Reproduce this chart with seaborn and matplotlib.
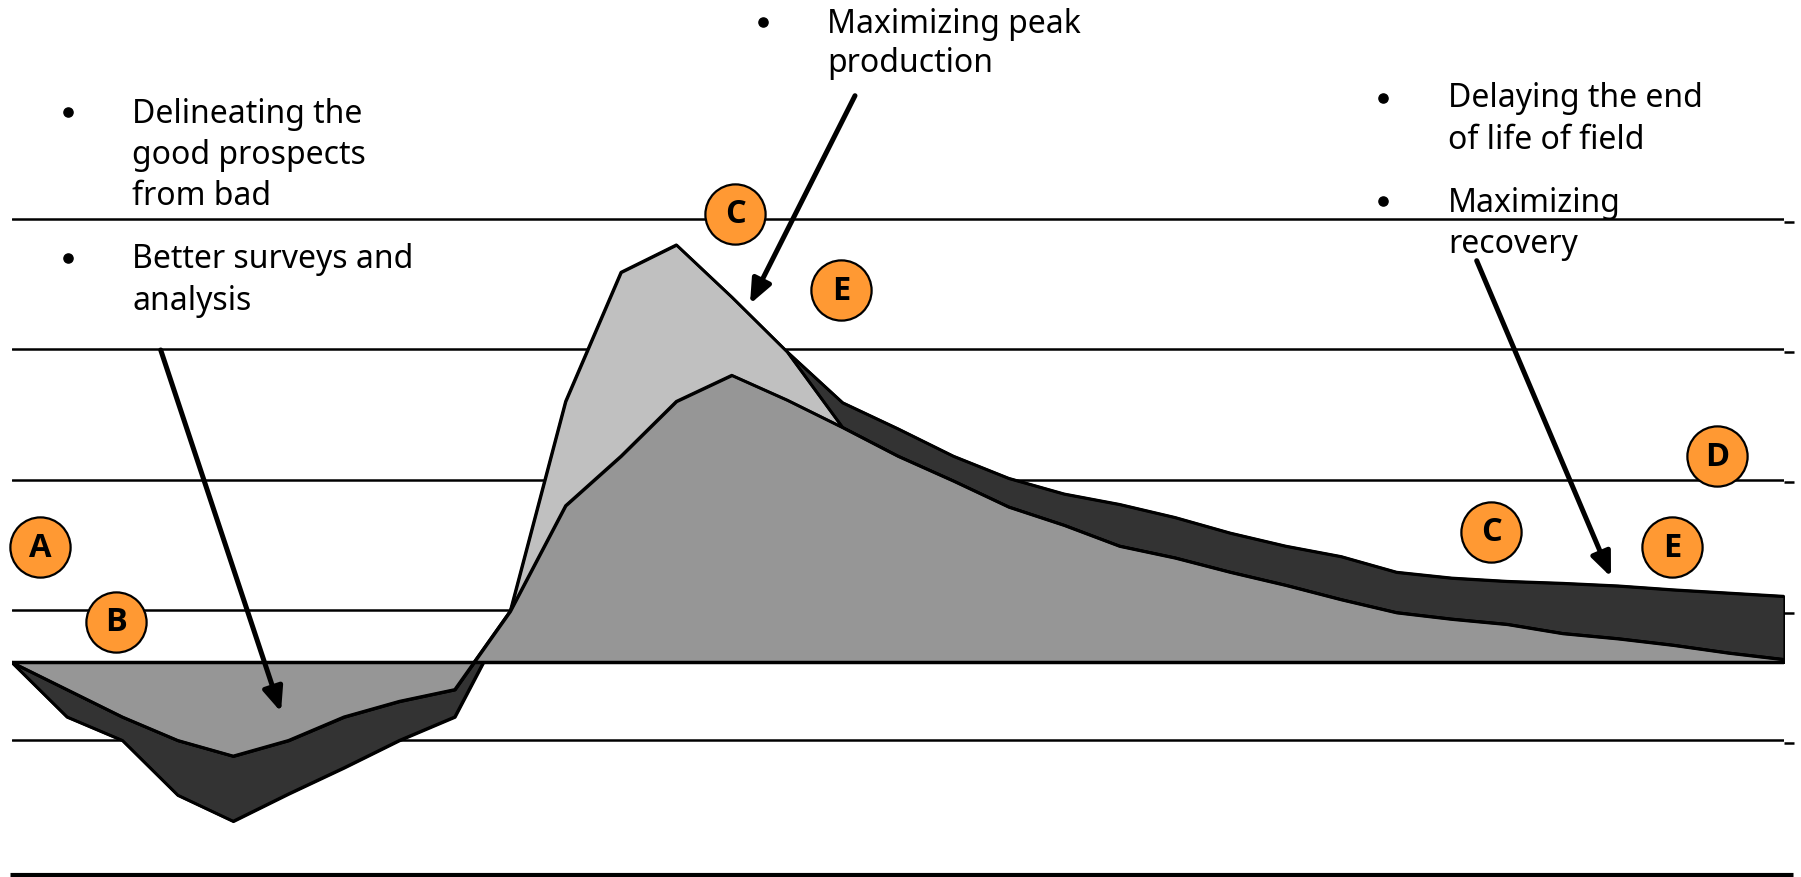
import matplotlib
matplotlib.use("Agg")
import matplotlib.pyplot as plt
from matplotlib.lines import Line2D
from matplotlib.patches import FancyArrowPatch
import seaborn as sns

# Field life cycle: 33 periods, three overlapping area profiles
periods = list(range(33))

improved_tail = [0, -42, -60, -102, -122, -101, -81, -60, -42,
                 39, 150, 210, 245, 252, 238, 199, 179, 158, 141, 129, 121,
                 111, 99, 89, 81, 69, 64.5, 62, 60.5, 58.5, 55.5, 53, 50.5]
accelerated_peak = [0, -21, -42, -60, -72, -60, -42, -30, -21,
                    39, 200, 299, 320, 280, 238, 180, 158, 139, 119, 105, 89,
                    80, 69, 59, 48, 38, 33, 29, 22, 18, 13, 7, 2]
base_case = [0, -21, -42, -60, -72, -60, -42, -30, -21,
             39, 120, 158, 200, 220, 201, 180, 158, 139, 119, 105, 89,
             80, 69, 59, 48, 38, 33, 29, 22, 18, 13, 7, 2]

grid_levels = [-160, -60, 40, 140, 240, 340]

# lettered markers (period, value)
marker_letters = ["A", "B", "C", "E", "D", "C", "E"]
marker_x = [0.52, 1.88, 13.06, 14.97, 30.78, 26.71, 29.97]
marker_y = [88, 31, 344, 285, 158, 100, 88]

# bullet text blocks
bullet_blocks = [
    ["Delineating the", "good prospects", "from bad"],
    ["Better surveys and", "analysis"],
    ["Maximizing peak", "production"],
    ["Delaying the end", "of life of field"],
    ["Maximizing", "recovery"],
]

W, H = 1801, 878
sns.set_theme(style="white")
plt.rcParams["font.family"] = ["Noto Sans", "DejaVu Sans"]

fig = plt.figure(figsize=(W / 100, H / 100), dpi=100)
fig.patch.set_facecolor("white")

x0_px, x1_px = 11.5, 1784.3
zero_px, unit_px = 663.1, 1.304
ax = fig.add_axes([x0_px / W, 0, (x1_px - x0_px) / W, 1])
ax.set_xlim(0, 32)
ax.set_ylim((zero_px - H) / unit_px, zero_px / unit_px)
ax.set_facecolor("none")
for s in ax.spines.values():
    s.set_visible(False)
ax.set_xticks([])
ax.set_yticks([])

# gridlines, with short tick marks just past the right end
for lvl in grid_levels[1:]:
    ax.axhline(lvl, color="black", lw=1.8, zorder=0.5)
    ax.plot([32.0, 32.17], [lvl - 2.2, lvl - 2.2], color="black", lw=1.8,
            solid_capstyle="butt", clip_on=False, zorder=0.5)

edge_lw = 2.0
layers = [
    (improved_tail, "#333333", 2),
    (accelerated_peak, "#C0C0C0", 3),
    (base_case, "#969696", 4),
]
for values, colour, z in layers:
    ax.fill_between(periods, 0, values, facecolor=colour, edgecolor="black",
                    linewidth=edge_lw, zorder=z)
    sns.lineplot(x=periods, y=values, ax=ax, color="black", lw=edge_lw,
                 zorder=z + 0.1, legend=False)

ax.axhline(0, color="black", lw=2.5, zorder=5)
# heavy bottom rule
ax.plot([-0.03, 32.16], [-163, -163], color="black", lw=3.7,
        solid_capstyle="butt", clip_on=False, zorder=6)

# lettered circles
ax.scatter(marker_x, marker_y, s=1880, color="#FF9933", edgecolor="black",
           linewidth=1.6, zorder=8, clip_on=False)
for letter, mx, my in zip(marker_letters, marker_x, marker_y):
    ax.text(mx, my, letter, ha="center", va="center", fontsize=23.5,
            fontweight="bold", family=["Open Sans", "DejaVu Sans"],
            color="black", zorder=9, clip_on=False)

# bullet text, positions in pixels from the top-left corner
block_layout = [
    ((68, 113), 132, [123, 164, 205]),
    ((68, 259), 132, [268, 310]),
    ((763, 23), 827, [33, 72]),
    ((1383, 99), 1448, [107, 149]),
    ((1383, 202), 1448, [212, 253]),
]
for lines, ((bx, by0), tx, baselines) in zip(bullet_blocks, block_layout):
    fig.add_artist(Line2D([bx / W], [1 - by0 / H], marker="o", ms=6.6,
                          color="black", transform=fig.transFigure))
    for line, by in zip(lines, baselines):
        fig.text(tx / W, 1 - by / H, line, ha="left", va="baseline",
                 fontsize=23, color="black")

# pointer arrows (pixels from the top-left corner)
arrows = [((160.7, 351), (281, 713)),
          ((855, 96.7), (750, 305)),
          ((1476.7, 261.7), (1611, 578))]
for (sx, sy), (ex, ey) in arrows:
    fig.add_artist(FancyArrowPatch(
        (sx, H - sy), (ex, H - ey), transform=None,
        arrowstyle="-|>,head_length=1.0,head_width=0.42",
        mutation_scale=14.5, lw=3.6, color="black",
        shrinkA=0, shrinkB=0, zorder=10))

fig.savefig("out.png", dpi=100, facecolor="white")
